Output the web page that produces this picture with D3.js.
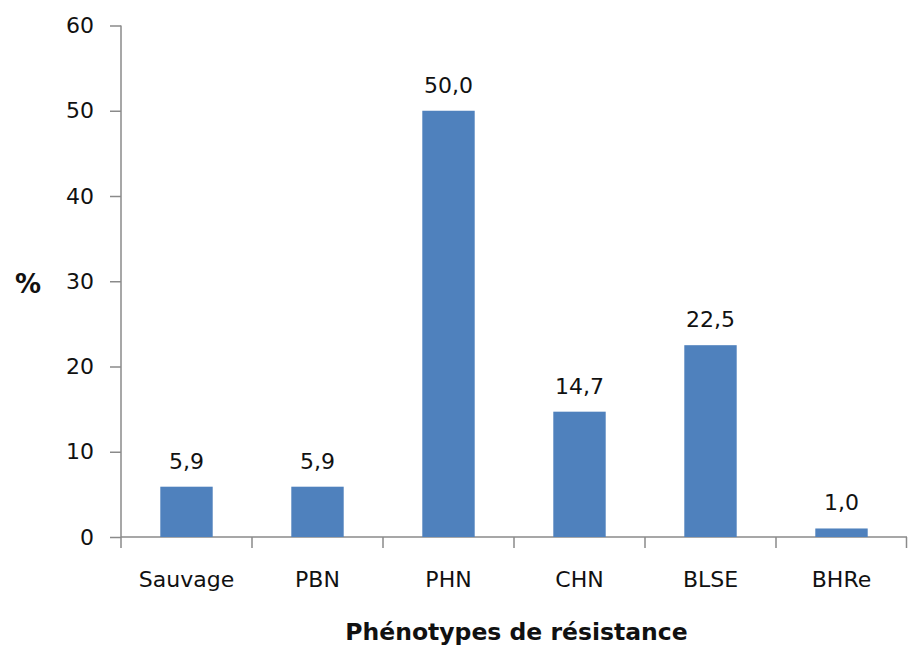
<!DOCTYPE html>
<html>
<head>
<meta charset="utf-8">
<script src="https://cdn.jsdelivr.net/npm/d3@7"></script>
<style>
  body { margin: 0; background: #fff; }
  svg text { font-family: "DejaVu Sans", Verdana, sans-serif; fill: #111; }
</style>
</head>
<body>
<div id="chart"></div>
<script>
// phenotypes de resistance, % of isolates
var categories = ["Sauvage", "PBN", "PHN", "CHN", "BLSE", "BHRe"];
var values = [5.9, 5.9, 50.0, 14.7, 22.5, 1.0];
var yTicks = [0, 10, 20, 30, 40, 50, 60];

var width = 908, height = 645;
var margin = {top: 25.5, right: 1, bottom: 108, left: 121};

var fr = d3.formatLocale({decimal: ",", thousands: " ", grouping: [3], currency: ["", " €"]});
var fmt = fr.format(".1f");

var svg = d3.select("#chart").append("svg")
  .attr("width", width).attr("height", height);

var x = d3.scaleBand().domain(categories)
  .range([margin.left, width - margin.right])
  .paddingInner(0.6).paddingOuter(0.3);
var y = d3.scaleLinear().domain([0, 60])
  .range([height - margin.bottom, margin.top]);

var axisColor = "#8a8a8a";

// y axis
var yAxis = svg.append("g").attr("transform", "translate(" + margin.left + ",0)")
  .call(d3.axisLeft(y).tickValues(yTicks).tickSize(11).tickPadding(16));
yAxis.selectAll("path, line").attr("stroke", axisColor).attr("stroke-width", 1.5);
yAxis.select(".domain").attr("d", "M0," + y(60) + "V" + y(0));
yAxis.selectAll("text").style("font-size", "22px").attr("fill", "#111");

// x axis: labels at band centers, ticks at band boundaries
var xAxis = svg.append("g").attr("transform", "translate(0," + y(0) + ")")
  .call(d3.axisBottom(x).tickSize(0).tickPadding(34));
xAxis.select(".domain").attr("d", "M" + margin.left + ",0H" + (width - margin.right))
  .attr("stroke", axisColor).attr("stroke-width", 1.5);
xAxis.selectAll("text").style("font-size", "22px").attr("fill", "#111");

var step = x.step();
var bounds = d3.range(categories.length + 1).map(function(i) {
  return margin.left + i * step;
});
xAxis.selectAll("line.bound").data(bounds).enter().append("line")
  .attr("class", "bound")
  .attr("x1", function(d) { return Math.min(d, width - 1.5); })
  .attr("x2", function(d) { return Math.min(d, width - 1.5); })
  .attr("y1", 0).attr("y2", 11)
  .attr("stroke", axisColor).attr("stroke-width", 1.5);

// bars
svg.append("g").selectAll("rect").data(values).enter().append("rect")
  .attr("x", function(d, i) { return x(categories[i]); })
  .attr("width", x.bandwidth())
  .attr("y", function(d) { return y(d); })
  .attr("height", function(d) { return y(0) - y(d); })
  .attr("fill", "#4f81bd");

// value labels
svg.append("g").selectAll("text").data(values).enter().append("text")
  .attr("x", function(d, i) { return x(categories[i]) + x.bandwidth() / 2; })
  .attr("y", function(d) { return y(d) - 18; })
  .attr("text-anchor", "middle")
  .style("font-size", "22px")
  .text(function(d) { return fmt(d); });

// axis titles
svg.append("text")
  .attr("x", (margin.left + width) / 2 + 2).attr("y", 640)
  .attr("text-anchor", "middle")
  .style("font-size", "23.5px").style("font-weight", "bold")
  .text("Phénotypes de résistance");

svg.append("text")
  .attr("x", 28).attr("y", 293)
  .attr("text-anchor", "middle")
  .style("font-size", "26px").style("font-weight", "bold")
  .text("%");
</script>
</body>
</html>
